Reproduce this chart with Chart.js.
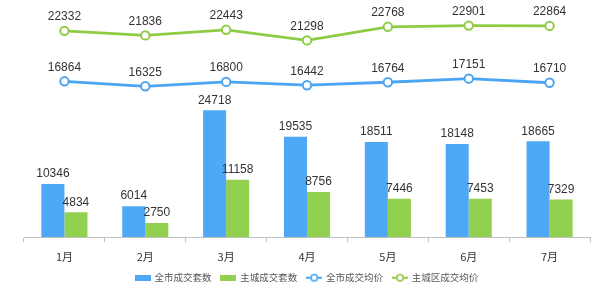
<!DOCTYPE html>
<html>
<head>
<meta charset="utf-8">
<script src="https://cdn.jsdelivr.net/npm/chart.js@4/dist/chart.umd.min.js"></script>
<style>
  html, body { margin: 0; padding: 0; background: #fff; }
  #wrap { width: 600px; height: 289px; position: relative; }
</style>
</head>
<body>
<div id="wrap"><canvas id="c"></canvas></div>
<script>
// 数据
var months      = ['1月', '2月', '3月', '4月', '5月', '6月', '7月'];
var cityCount   = [10346, 6014, 24718, 19535, 18511, 18148, 18665];
var mainCount   = [4834, 2750, 11158, 8756, 7446, 7453, 7329];
var cityPrice   = [16864, 16325, 16800, 16442, 16764, 17151, 16710];
var mainPrice   = [22332, 21836, 22443, 21298, 22768, 22901, 22864];
var seriesNames = ['全市成交套数', '主城成交套数', '全市成交均价', '主城区成交均价'];

var BLUE  = '#4ea8f6';
var GREEN = '#92d050';
var LBLUE = '#4ca5f2';
var LGREEN = '#8fcc46';

// legend icons
function boxIcon(color) {
  var cv = document.createElement('canvas');
  cv.width = 16; cv.height = 6;
  var g = cv.getContext('2d');
  g.fillStyle = color;
  g.fillRect(0, 0, 16, 6);
  return cv;
}
function lineIcon(color) {
  var cv = document.createElement('canvas');
  cv.width = 16; cv.height = 10;
  var g = cv.getContext('2d');
  g.strokeStyle = color;
  g.lineWidth = 2;
  g.beginPath(); g.moveTo(0, 5); g.lineTo(16, 5); g.stroke();
  g.beginPath(); g.arc(8, 5, 3.2, 0, Math.PI * 2);
  g.fillStyle = '#fff'; g.fill();
  g.lineWidth = 1.6; g.stroke();
  return cv;
}

// value labels above bars and points
var valueLabels = {
  id: 'valueLabels',
  afterDatasetsDraw: function (chart) {
    var c = chart.ctx;
    c.save();
    c.font = '12px "Liberation Sans", Arial, sans-serif';
    c.fillStyle = '#333';
    c.textAlign = 'center';
    c.textBaseline = 'bottom';
    chart.data.datasets.forEach(function (ds, i) {
      var meta = chart.getDatasetMeta(i);
      var off = ds.type === 'line' ? 8 : 4;
      meta.data.forEach(function (el, j) {
        c.fillText(String(ds.data[j]), el.x, el.y - off);
      });
    });
    c.restore();
  }
};

new Chart(document.getElementById('c'), {
  type: 'bar',
  plugins: [valueLabels],
  data: {
    labels: months,
    datasets: [
      { type: 'bar', label: seriesNames[0], data: cityCount, backgroundColor: BLUE,
        yAxisID: 'yBar', pointStyle: boxIcon(BLUE) },
      { type: 'bar', label: seriesNames[1], data: mainCount, backgroundColor: GREEN,
        yAxisID: 'yBar', pointStyle: boxIcon(GREEN) },
      { type: 'line', label: seriesNames[2], data: cityPrice, borderColor: LBLUE,
        backgroundColor: '#fff', borderWidth: 2.8, pointRadius: 4.2, pointBorderWidth: 2,
        pointBackgroundColor: '#fff', pointBorderColor: LBLUE, tension: 0,
        yAxisID: 'yLine', pointStyle: 'circle', legendIcon: lineIcon(LBLUE) },
      { type: 'line', label: seriesNames[3], data: mainPrice, borderColor: LGREEN,
        backgroundColor: '#fff', borderWidth: 2.8, pointRadius: 4.2, pointBorderWidth: 2,
        pointBackgroundColor: '#fff', pointBorderColor: LGREEN, tension: 0,
        yAxisID: 'yLine', pointStyle: 'circle', legendIcon: lineIcon(LGREEN) }
    ]
  },
  options: {
    responsive: true,
    maintainAspectRatio: false,
    animation: false,
    layout: { padding: { left: 24, right: 10, top: 6, bottom: -3.5 } },
    datasets: {
      bar: { categoryPercentage: 0.57, barPercentage: 1.0 }
    },
    plugins: {
      tooltip: { enabled: false },
      legend: {
        position: 'bottom',
        labels: {
          usePointStyle: true,
          pointStyleWidth: 14,
          boxHeight: 8,
          padding: 10,
          color: '#555',
          font: { family: '"Noto Sans CJK SC", sans-serif', size: 9.5 },
          generateLabels: function (chart) {
            return chart.data.datasets.map(function (ds, i) {
              return {
                text: ds.label,
                fillStyle: ds.backgroundColor,
                strokeStyle: ds.borderColor,
                lineWidth: 0,
                pointStyle: ds.legendIcon || ds.pointStyle,
                fontColor: '#555',
                hidden: false,
                datasetIndex: i
              };
            });
          }
        }
      }
    },
    scales: {
      x: {
        grid: { drawOnChartArea: false, color: '#bfbfbf', tickLength: 5, offset: true },
        border: { color: '#bfbfbf' },
        ticks: { color: '#333', padding: 8, font: { family: '"Noto Sans CJK SC", sans-serif', size: 11 } },
        afterFit: function (scale) { scale.height = 26; }
      },
      yBar:  { display: false, min: 0, max: 45000 },
      yLine: { display: false, min: 0, max: 25000 }
    }
  }
});
</script>
</body>
</html>
